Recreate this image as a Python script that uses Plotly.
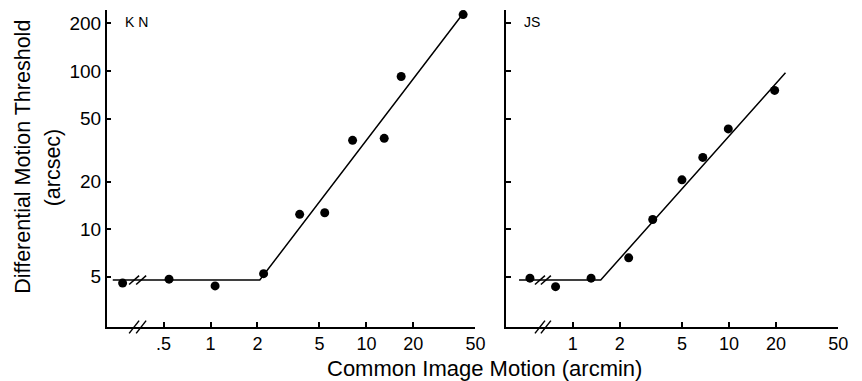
import math
import plotly.graph_objects as go

# ---- data ----
kn_x = [0.273, 0.542, 1.07, 2.19, 3.73, 5.4, 8.15, 13.0, 16.7, 41.7]
kn_y = [4.56, 4.83, 4.38, 5.23, 12.4, 12.7, 36.4, 37.5, 92.2, 227]
kn_fit_x = [0.236, 2.07, 43.0]
kn_fit_y = [4.77, 4.77, 240]

js_x = [0.532, 0.776, 1.31, 2.28, 3.25, 5.0, 6.8, 9.9, 19.6]
js_y = [4.9, 4.33, 4.9, 6.59, 11.5, 20.5, 28.4, 43.0, 75.3]
js_fit_x = [0.453, 1.51, 23.0]
js_fit_y = [4.77, 4.77, 97.4]

kn_xticks = [0.5, 1, 2, 5, 10, 20, 50]
kn_xtext = [".5", "1", "2", "5", "10", "20", "50"]
js_xticks = [1, 2, 5, 10, 20, 50]
js_xtext = ["1", "2", "5", "10", "20", "50"]
yticks = [5, 10, 20, 50, 100, 200]
ytext = ["5", "10", "20", "50", "100", "200"]

FONT = "Liberation Sans, Arial, Helvetica, sans-serif"

fig = go.Figure()
for xs, ys, fx, fy, xa, ya in [
    (kn_x, kn_y, kn_fit_x, kn_fit_y, "x", "y"),
    (js_x, js_y, js_fit_x, js_fit_y, "x2", "y2"),
]:
    fig.add_trace(go.Scatter(x=fx, y=fy, mode="lines", xaxis=xa, yaxis=ya,
                             line=dict(color="black", width=1.5), showlegend=False,
                             hoverinfo="skip"))
    fig.add_trace(go.Scatter(x=xs, y=ys, mode="markers", xaxis=xa, yaxis=ya,
                             marker=dict(color="black", size=9), showlegend=False,
                             cliponaxis=False))

common_axis = dict(type="log", showline=True, linecolor="black", linewidth=1.5,
                   ticks="inside", ticklen=5, tickwidth=1.5, tickcolor="black",
                   showgrid=False, zeroline=False,
                   tickfont=dict(family=FONT, size=18, color="black"))
yrange = [0.3816, 2.385]

fig.update_layout(
    width=862, height=381,
    margin=dict(l=0, r=0, t=0, b=0),
    paper_bgcolor="white", plot_bgcolor="white",
    font=dict(family=FONT, color="black"),
    xaxis=dict(common_axis, domain=[108/862, 481/862],
               range=[math.log10(0.216), math.log10(50)],
               tickvals=kn_xticks, ticktext=kn_xtext, anchor="y"),
    yaxis=dict(common_axis, domain=[1-327/381, 1-10/381], range=yrange,
               tickvals=yticks, ticktext=ytext, anchor="x",
               tickfont=dict(family=FONT, size=19, color="black")),
    xaxis2=dict(common_axis, domain=[512/862, 848/862],
                range=[-0.427, math.log10(50)],
                tickvals=js_xticks, ticktext=js_xtext, anchor="y2"),
    yaxis2=dict(common_axis, domain=[1-327/381, 1-10/381], range=yrange,
                tickvals=yticks, ticktext=ytext, showticklabels=False, anchor="x2"),
)

# axis-break marks (//) on the x axis and on the fit line (shapes take data values on log axes)
shapes = []
for xref, yref, centers, level in [("x", "y", [-0.49, -0.445], kn_fit_y[0]),
                                    ("x2", "y2", [-0.21, -0.172], js_fit_y[0])]:
    for c in centers:
        xa0, xa1 = 10 ** (c - 0.032), 10 ** (c + 0.032)
        shapes.append(dict(type="line", xref=xref, yref=yref + " domain",
                           x0=xa0, x1=xa1, y0=-0.02, y1=0.02,
                           line=dict(color="black", width=1.5)))
        shapes.append(dict(type="line", xref=xref, yref=yref,
                           x0=xa0, x1=xa1, y0=level * 10 ** -0.028, y1=level * 10 ** 0.028,
                           line=dict(color="black", width=1.5)))
fig.update_layout(shapes=shapes)

fig.add_annotation(text="K N", xref="x domain", yref="y domain", x=0.045, y=0.962,
                   xanchor="left", yanchor="middle", showarrow=False,
                   font=dict(family=FONT, size=14, color="black"))
fig.add_annotation(text="JS", xref="x2 domain", yref="y2 domain", x=0.048, y=0.962,
                   xanchor="left", yanchor="middle", showarrow=False,
                   font=dict(family=FONT, size=14, color="black"))
fig.add_annotation(text="Common Image Motion (arcmin)", xref="paper", yref="paper",
                   x=490/862, y=1-368/381, xanchor="center", yanchor="middle",
                   showarrow=False, font=dict(family=FONT, size=22, color="black"))
fig.add_annotation(text="Differential Motion Threshold", xref="paper", yref="paper",
                   x=23/862, y=1-157/381, xanchor="center", yanchor="middle",
                   textangle=-90, showarrow=False,
                   font=dict(family=FONT, size=21.5, color="black"))
fig.add_annotation(text="(arcsec)", xref="paper", yref="paper",
                   x=54/862, y=1-167/381, xanchor="center", yanchor="middle",
                   textangle=-90, showarrow=False,
                   font=dict(family=FONT, size=21.5, color="black"))

fig.write_html("out.html")
